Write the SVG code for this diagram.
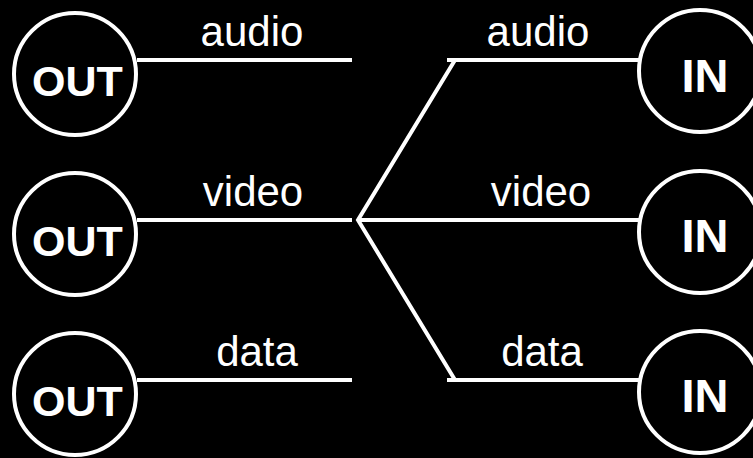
<svg xmlns="http://www.w3.org/2000/svg" width="753" height="458" viewBox="0 0 753 458">
<style>
.c{fill:#000;stroke:#fff;stroke-width:4}
.w{stroke:#fff;stroke-width:4;fill:none}
.lbl{font-family:"Liberation Sans",Arial,sans-serif;font-size:42px;fill:#fff;text-anchor:middle}
.out{font-family:"Liberation Sans",Arial,sans-serif;font-size:43px;font-weight:bold;fill:#fff;text-anchor:middle}
.in{font-family:"Liberation Sans",Arial,sans-serif;font-size:47px;font-weight:bold;fill:#fff;text-anchor:middle}
</style>
<rect width="753" height="458" fill="#000"/>
<g id="connectors">
<line class="w" x1="137" y1="60" x2="352" y2="60"/>
<line class="w" x1="137" y1="220" x2="352" y2="220"/>
<line class="w" x1="137" y1="380" x2="352" y2="380"/>
<polyline class="w" points="639,60 447,60 455,60 358,220 455,380 447,380 639,380"/>
<line class="w" x1="357" y1="220" x2="639" y2="220"/>
<text class="lbl" x="252" y="46">audio</text>
<text class="lbl" x="253" y="206">video</text>
<text class="lbl" x="257" y="366">data</text>
<text class="lbl" x="538" y="46">audio</text>
<text class="lbl" x="541" y="206">video</text>
<text class="lbl" x="542" y="366">data</text>
</g>
<g id="out1"><circle class="c" cx="75" cy="74" r="61"/><text class="out" x="77.5" y="96">OUT</text></g>
<g id="out2"><circle class="c" cx="75" cy="234" r="61"/><text class="out" x="77.5" y="256">OUT</text></g>
<g id="out3"><circle class="c" cx="75" cy="394" r="61"/><text class="out" x="77.5" y="416">OUT</text></g>
<g id="in1"><circle class="c" cx="700" cy="71" r="61"/><text class="in" x="705" y="92">IN</text></g>
<g id="in2"><circle class="c" cx="700" cy="232" r="61"/><text class="in" x="705" y="252">IN</text></g>
<g id="in3"><circle class="c" cx="700" cy="392" r="61"/><text class="in" x="705" y="412">IN</text></g>
</svg>
